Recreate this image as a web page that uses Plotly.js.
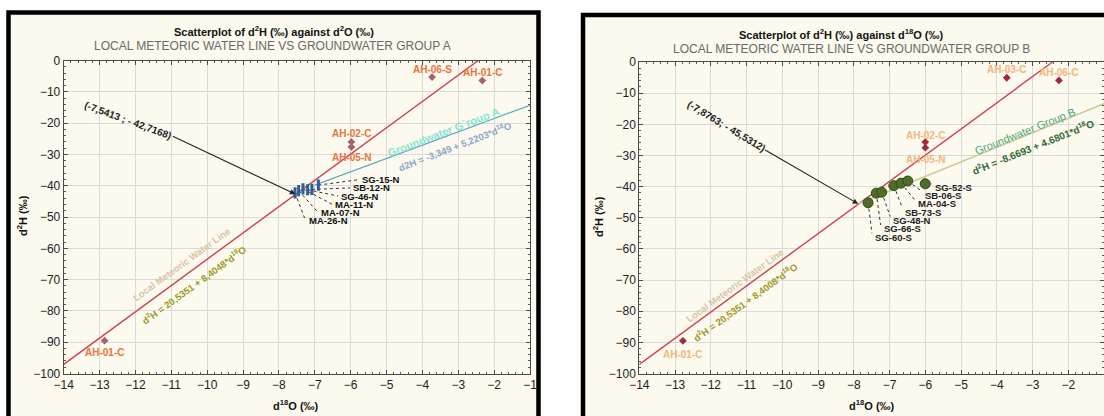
<!DOCTYPE html>
<html>
<head>
<meta charset="utf-8">
<script src="https://cdn.plot.ly/plotly-3.0.1.min.js"></script>
<style>html,body{margin:0;padding:0;background:#fff;}#chart{width:1104px;height:416px;}</style>
</head>
<body>
<div id="chart"></div>
<script>
// ---------------- DATA ----------------
// Local meteoric water line (same in both panels)
const lmwlX = [-14, -2.44];
const lmwlY = [-97.1, 0];
// Groundwater group A trend line (as drawn)
const gwaLineX = [-7.0, -1.0];
const gwaLineY = [-39.8, -14.3];
// Groundwater group B trend line (as drawn)
const gwbLineX = [-7.88, -1.0];
const gwbLineY = [-45.5, -13.4];

// Panel A: group A samples
const groupANames = ['MA-26-N', 'MA-07-N', 'MA-11-N', 'SG-46-N', 'SB-12-N', 'SG-15-N'];
const groupAO = [-7.55, -7.45, -7.33, -7.20, -7.08, -6.90];
const groupAH = [-42.3, -41.6, -41.0, -41.3, -41.2, -39.8];
// Panel A: other samples
const otherANames = ['AH-06-S', 'AH-01-C', 'AH-02-C', 'AH-05-N', 'AH-01-C'];
const otherAO = [-3.73, -2.33, -5.98, -5.98, -12.86];
const otherAH = [-5.3, -6.4, -26.0, -27.6, -89.5];

// Panel B: group B samples
const groupBNames = ['SG-60-S', 'SG-66-S', 'SG-48-N', 'SB-73-S', 'MA-04-S', 'SB-06-S', 'SG-52-S'];
const groupBO = [-7.60, -7.37, -7.22, -6.88, -6.68, -6.49, -6.00];
const groupBH = [-45.2, -42.1, -41.8, -39.7, -38.9, -38.2, -39.1];
// Panel B: other samples
const otherBNames = ['AH-03-C', 'AH-06-C', 'AH-02-C', 'AH-05-N', 'AH-01-C'];
const otherBO = [-3.72, -2.26, -6.0, -6.0, -12.78];
const otherBH = [-5.05, -5.9, -25.7, -27.5, -89.5];

// Intersection points
const interA = [-7.5413, -42.7168];
const interB = [-7.8763, -45.5312];

// Axis ticks
const xTicks = [-14, -13, -12, -11, -10, -9, -8, -7, -6, -5, -4, -3, -2, -1];
const yTicks = [0, -10, -20, -30, -40, -50, -60, -70, -80, -90, -100];

// ---------------- LAYOUT HELPERS (positions of labels) ----------------
const labelA = { x: [-7.23, -6.88, -6.49, -6.32, -5.99, -5.75], y: [-51.1, -48.5, -45.9, -43.3, -40.7, -38.1] };
const labelB = { x: [-7.46, -7.22, -6.95, -6.61, -6.27, -6.05, -5.79], y: [-56.3, -53.6, -50.9, -48.2, -45.5, -42.9, -40.4] };
const otherAShift = [8, 8, 8, -11, -12];
const otherBShift = [8, 8, 7, -12, -14];

const W = 1104, H = 416;
const px = v => v / W;
const py = v => 1 - v / H;
const FONT = '"Liberation Sans", Arial, sans-serif';

function leaders(xs, ys, lx, ly, dy) {
  const X = [], Y = [];
  for (let i = 0; i < xs.length; i++) {
    X.push(xs[i], lx[i] - 0.03, null);
    Y.push(ys[i], ly[i] + dy, null);
  }
  return { X, Y };
}

const lA = leaders(groupAO, groupAH, labelA.x, labelA.y, 0);
const lB = leaders(groupBO, groupBH, labelB.x, labelB.y, 1.3);

const traces = [
  // Panel A
  { x: lmwlX, y: lmwlY, xaxis: 'x', yaxis: 'y', mode: 'lines', line: { color: '#d0404e', width: 1.4 }, hoverinfo: 'skip' },
  { x: gwaLineX, y: gwaLineY, xaxis: 'x', yaxis: 'y', mode: 'lines', line: { color: '#5fa9c4', width: 1.2 }, hoverinfo: 'skip' },
  { x: lA.X, y: lA.Y, xaxis: 'x', yaxis: 'y', mode: 'lines', line: { color: '#333', width: 1, dash: 'dot' }, hoverinfo: 'skip' },
  { x: otherAO, y: otherAH, xaxis: 'x', yaxis: 'y', mode: 'markers', marker: { symbol: 'diamond', size: 6, color: '#a8606c' } },
  { x: groupAO, y: groupAH, xaxis: 'x', yaxis: 'y', mode: 'markers', marker: { symbol: 'line-ns-open', size: 8, color: '#2f5d9a', line: { color: '#2f5d9a', width: 3 } } },
  // Panel B
  { x: lmwlX, y: lmwlY, xaxis: 'x2', yaxis: 'y2', mode: 'lines', line: { color: '#d0404e', width: 1.4 }, hoverinfo: 'skip' },
  { x: gwbLineX, y: gwbLineY, xaxis: 'x2', yaxis: 'y2', mode: 'lines', line: { color: '#c9c890', width: 1.4 }, hoverinfo: 'skip' },
  { x: lB.X, y: lB.Y, xaxis: 'x2', yaxis: 'y2', mode: 'lines', line: { color: '#333', width: 1, dash: 'dot' }, hoverinfo: 'skip' },
  { x: otherBO, y: otherBH, xaxis: 'x2', yaxis: 'y2', mode: 'markers', marker: { symbol: 'diamond', size: 6, color: '#a02a3a' } },
  { x: groupBO, y: groupBH, xaxis: 'x2', yaxis: 'y2', mode: 'markers', marker: { symbol: 'circle', size: 10, color: '#4f6d29', line: { color: '#2f4a18', width: 1 } } }
];

function axisCommon() {
  return {
    showgrid: true, gridcolor: '#dadada', gridwidth: 1, zeroline: false,
    showline: true, linecolor: '#4a4a4a', linewidth: 1, mirror: 'allticks',
    ticks: 'inside', ticklen: 4, tickcolor: '#4a4a4a',
    tickfont: { family: FONT, size: 12, color: '#222' },
    minor: { ticks: 'inside', ticklen: 2, tickcolor: '#5a5a5a', showgrid: false }
  };
}

const xa = Object.assign(axisCommon(), { domain: [px(63.7), px(530)], range: [-14, -1], tickvals: xTicks, anchor: 'y' });
xa.minor.dtick = 0.2;
const ya = Object.assign(axisCommon(), { domain: [py(373.5), py(60.5)], range: [-100, 0], tickvals: yTicks, anchor: 'x' });
ya.minor.dtick = 2;
const xb = Object.assign(axisCommon(), { domain: [px(639.3), 1], range: [-14, -1], tickvals: xTicks, anchor: 'y2' });
xb.minor.dtick = 0.2;
const yb = Object.assign(axisCommon(), { domain: [py(373.5), py(62)], range: [-100, 0], tickvals: yTicks, anchor: 'x2' });
yb.minor.dtick = 2;

const ann = [];
function txt(o) {
  ann.push(Object.assign({ showarrow: false, xanchor: 'center', yanchor: 'middle', font: { family: FONT, size: 11, color: '#111' } }, o));
}
// Titles
txt({ xref: 'paper', yref: 'paper', x: px(274), y: py(31), text: '<b>Scatterplot of d<sup>2</sup>H (‰) against d<sup>2</sup>O (‰)</b>', font: { family: FONT, size: 11, color: '#111' } });
txt({ xref: 'paper', yref: 'paper', x: px(272), y: py(46), text: 'LOCAL METEORIC WATER LINE VS GROUNDWATER GROUP A', font: { family: FONT, size: 12, color: '#6a6a6a' } });
txt({ xref: 'paper', yref: 'paper', x: px(841), y: py(34), text: '<b>Scatterplot of d<sup>2</sup>H (‰) against d<sup>18</sup>O (‰)</b>', font: { family: FONT, size: 11, color: '#111' } });
txt({ xref: 'paper', yref: 'paper', x: px(851), y: py(49), text: 'LOCAL METEORIC WATER LINE VS GROUNDWATER GROUP B', font: { family: FONT, size: 12, color: '#6a6a6a' } });
// Axis titles
txt({ xref: 'paper', yref: 'paper', x: px(22), y: py(215), textangle: -90, text: '<b>d<sup>2</sup>H (‰)</b>', font: { family: FONT, size: 11, color: '#111' } });
txt({ xref: 'paper', yref: 'paper', x: px(598), y: py(217), textangle: -90, text: '<b>d<sup>2</sup>H (‰)</b>', font: { family: FONT, size: 11, color: '#111' } });
txt({ xref: 'paper', yref: 'paper', x: px(296), y: py(405), text: '<b>d<sup>18</sup>O (‰)</b>', font: { family: FONT, size: 11, color: '#111' } });
txt({ xref: 'paper', yref: 'paper', x: px(872), y: py(405), text: '<b>d<sup>18</sup>O (‰)</b>', font: { family: FONT, size: 11, color: '#111' } });

// Line labels panel A
txt({ xref: 'x', yref: 'y', x: -10.72, y: -65.2, textangle: -36, text: '<b>Local Meteoric Water Line</b>', font: { family: FONT, size: 9.5, color: '#d8c4a8' } });
txt({ xref: 'x', yref: 'y', x: -10.38, y: -71.7, textangle: -36, text: '<b>d<sup>2</sup>H = 20,5351 + 8,4048*d<sup>18</sup>O</b>', font: { family: FONT, size: 9.5, color: '#9a9a26' } });
txt({ xref: 'x', yref: 'y', x: -3.41, y: -22.8, textangle: -21, text: '<b>Groundwater G`roup A</b>', font: { family: FONT, size: 11, color: '#86e6d0' } });
txt({ xref: 'x', yref: 'y', x: -3.08, y: -27.4, textangle: -21, text: '<b>d2H = -3,349 + 5,2203*d<sup>18</sup>O</b>', font: { family: FONT, size: 9.5, color: '#8ea6c8' } });
// Line labels panel B
txt({ xref: 'x2', yref: 'y2', x: -11.33, y: -71.7, textangle: -36, text: '<b>Local Meteoric Water Line</b>', font: { family: FONT, size: 9.5, color: '#d8c4a8' } });
txt({ xref: 'x2', yref: 'y2', x: -11.04, y: -76.9, textangle: -36, text: '<b>d<sup>2</sup>H = 20,5351 + 8,4008*d<sup>18</sup>O</b>', font: { family: FONT, size: 9.5, color: '#9a9a26' } });
txt({ xref: 'x2', yref: 'y2', x: -3.2, y: -22.0, textangle: -22, text: 'Groundwater Group B', font: { family: FONT, size: 11, color: '#4aa87a' } });
txt({ xref: 'x2', yref: 'y2', x: -3.0, y: -27.3, textangle: -22, text: '<b>d<sup>2</sup>H = -8.6693 + 4.6801*d<sup>18</sup>O</b>', font: { family: FONT, size: 10, color: '#2f6b2f' } });

// Intersection arrows
ann.push({ xref: 'x', yref: 'y', axref: 'x', ayref: 'y', x: interA[0], y: interA[1], ax: -11.0, ay: -24.0, showarrow: true, arrowhead: 2, arrowsize: 1, arrowwidth: 1.1, arrowcolor: '#222', text: '' });
txt({ xref: 'x', yref: 'y', x: -12.2, y: -19.2, textangle: 20, text: '<b>(-7,5413 ; - 42,7168)</b>', font: { family: FONT, size: 10, color: '#222' } });
ann.push({ xref: 'x2', yref: 'y2', axref: 'x2', ayref: 'y2', x: interB[0], y: interB[1], ax: -10.52, ay: -28.0, showarrow: true, arrowhead: 2, arrowsize: 1, arrowwidth: 1.1, arrowcolor: '#222', text: '' });
txt({ xref: 'x2', yref: 'y2', x: -11.55, y: -20.7, textangle: 31, text: '<b>(-7,8763; - 45,5312)</b>', font: { family: FONT, size: 10, color: '#222' } });

// Sample labels
groupANames.forEach((n, i) => txt({ xref: 'x', yref: 'y', x: labelA.x[i], y: labelA.y[i], xanchor: 'left', text: '<b>' + n + '</b>', font: { family: FONT, size: 9.5, color: '#111' } }));
groupBNames.forEach((n, i) => txt({ xref: 'x2', yref: 'y2', x: labelB.x[i], y: labelB.y[i], xanchor: 'left', text: '<b>' + n + '</b>', font: { family: FONT, size: 9.5, color: '#222' } }));
otherANames.forEach((n, i) => txt({ xref: 'x', yref: 'y', x: otherAO[i], y: otherAH[i], yshift: otherAShift[i], text: '<b>' + n + '</b>', font: { family: FONT, size: 10, color: '#e8743c' } }));
otherBNames.forEach((n, i) => txt({ xref: 'x2', yref: 'y2', x: otherBO[i], y: otherBH[i], yshift: otherBShift[i], text: '<b>' + n + '</b>', font: { family: FONT, size: 10, color: '#f3b67c' } }));

const shapes = [
  { type: 'rect', xref: 'paper', yref: 'paper', layer: 'below', x0: px(8.5), x1: px(538.5), y0: py(440), y1: py(12.5), line: { color: '#000', width: 4.5 }, fillcolor: '#fcf9ee' },
  { type: 'rect', xref: 'paper', yref: 'paper', layer: 'below', x0: px(583), x1: px(1130), y0: py(440), y1: py(15), line: { color: '#000', width: 4.5 }, fillcolor: '#fcf9ee' }
];

const layout = {
  width: W, height: H, margin: { l: 0, r: 0, t: 0, b: 0 },
  paper_bgcolor: '#ffffff', plot_bgcolor: '#ffffff', showlegend: false,
  font: { family: FONT },
  xaxis: xa, yaxis: ya, xaxis2: xb, yaxis2: yb,
  annotations: ann, shapes: shapes
};

Plotly.newPlot('chart', traces, layout, { displayModeBar: false, staticPlot: true });
</script>
</body>
</html>
